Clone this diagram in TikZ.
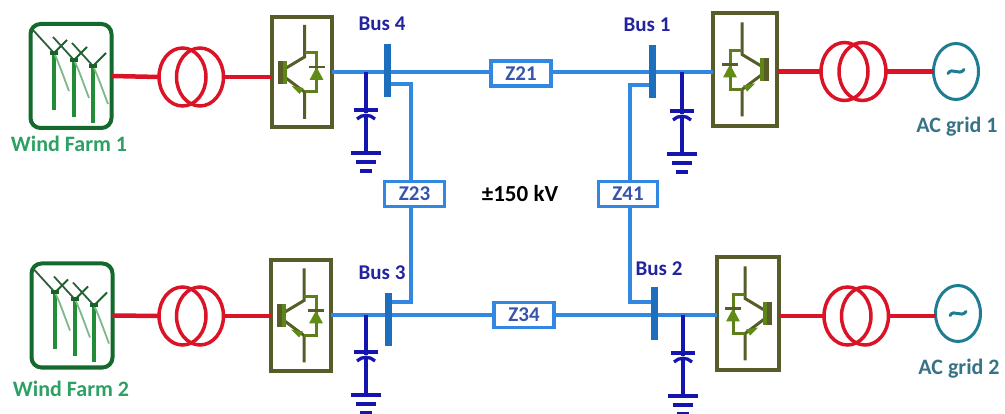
\documentclass[tikz,border=0pt]{standalone}
\usepackage{fontspec}
\setmainfont{Carlito}
\usetikzlibrary{shapes.geometric}
\definecolor{farmg}{RGB}{20,105,45}
\definecolor{towerg}{RGB}{35,140,55}
\definecolor{bladeg}{RGB}{45,95,60}
\definecolor{farmt}{RGB}{45,160,100}
\definecolor{olv}{RGB}{88,92,40}
\definecolor{dio}{RGB}{95,140,20}
\definecolor{rd}{RGB}{218,20,38}
\definecolor{ln}{RGB}{50,135,225}
\definecolor{barc}{RGB}{30,110,190}
\definecolor{navy2}{RGB}{20,20,175}
\definecolor{bust}{RGB}{35,35,160}
\definecolor{zt}{RGB}{55,85,170}
\definecolor{teal2}{RGB}{30,125,145}
\definecolor{act}{RGB}{55,115,135}
\tikzset{
  x=1pt,y=-1pt,
  farmbox/.style={draw=farmg,line width=4pt,rounded corners=10pt,minimum width=81pt,minimum height=104pt,inner sep=0pt,outer sep=0pt},
  conv/.style={draw=olv,line width=4pt,minimum width=60pt,minimum height=110pt,inner sep=0pt,outer sep=0pt},
  trafo/.style={ellipse,draw=rd,line width=3.5pt,minimum width=47pt,minimum height=58pt,inner sep=0pt,outer sep=0pt},
  acsrc/.style={ellipse,draw=teal2,line width=3pt,minimum width=45pt,minimum height=56pt,inner sep=0pt,outer sep=0pt},
  redl/.style={draw=rd,line width=4.5pt},
  bluel/.style={draw=ln,line width=4pt},
  busbar/.style={fill=barc,minimum width=7pt,minimum height=53pt,inner sep=0pt,outer sep=0pt},
  zbox/.style={draw=ln,line width=3.5pt,fill=white,minimum width=60pt,minimum height=25pt,inner sep=0pt,outer sep=0pt,text=zt,font=\fontsize{21}{21}\selectfont\bfseries},
  buslab/.style={text=bust,font=\fontsize{21}{21}\selectfont\bfseries,inner sep=0pt},
  farmlab/.style={text=farmt,font=\fontsize{22}{22}\selectfont\bfseries,inner sep=0pt},
  aclab/.style={text=act,font=\fontsize{22}{22}\selectfont\bfseries,inner sep=0pt},
  tilde/.pic={
    \draw[teal2,line width=3pt,line cap=round] (-8,2) .. controls (-4,-5) and (3,5) .. (8,-2);
  },
  turbine/.pic={
    \draw[towerg,line width=4pt] (0,0) -- (0,57);
    \draw[bladeg,line width=1.8pt] (0,0) -- (-21,-23);
    \draw[towerg!70!black,line width=2pt] (0,0) -- (13,-13);
    \draw[towerg!60!white,line width=1.8pt] (0,0) .. controls (5,10) and (10,25) .. (15,38);
    \fill[towerg!70!black] (-4,-2) rectangle (4,2);
  },
  igbt/.pic={
    \draw[olv,line width=3pt] (3,-47) -- (3,-15) -- (-17,-3);
    \draw[olv,line width=3pt] (-17,5) -- (3,20) -- (3,47);
    \fill[olv] (-24,-11) rectangle (-19,12);
    \fill[dio!85!olv] (-19,-11) rectangle (-15,12);
    \fill[dio] (-2,22) -- (-10,14) -- (2,16) -- cycle;
    \draw[dio!70!olv,line width=3pt] (3,-19) -- (15,-19) -- (15,20) -- (3,20);
    \fill[dio] (8,8) -- (22,8) -- (15,-5) -- cycle;
    \draw[olv,line width=2.5pt] (7,-5) -- (23,-5);
  },
  capg/.pic={
    \draw[navy2,line width=3.3pt] (0,0) -- (0,43);
    \draw[navy2,line width=4pt] (-12,0) -- (12,0);
    \fill[white] (-2,3) rectangle (2,5);
    \draw[navy2,line width=3.3pt] (-9,9) .. controls (-4,4) and (4,4) .. (9,9);
    \draw[navy2,line width=4pt] (-15,43) -- (15,43);
    \draw[navy2,line width=4pt] (-10,52) -- (10,52);
    \draw[navy2,line width=4pt] (-6,61) -- (6,61);
  }
}
\begin{document}
\begin{tikzpicture}
\useasboundingbox (0,0) rectangle (1005,414);
% left column
\node[farmbox] (farm1) at (71,76) {};
\node[farmbox] (farm2) at (72,315.5) {};
\node[farmlab] (lf1) at (69,144) {Wind Farm 1};
\node[farmlab] (lf2) at (71,389) {Wind Farm 2};
\foreach \f/\dy in {0/0,1/239.5}{
  \pic at ({54+\f},{53+\dy}) {turbine};
  \pic at ({74+\f},{60+\dy}) {turbine};
  \pic at ({93+\f},{66+\dy}) {turbine};
}
\node[trafo] (t1a) at (182.5,77) {};
\node[trafo] (t1b) at (200,77) {};
\node[trafo] (t2a) at (182.5,316) {};
\node[trafo] (t2b) at (200,316) {};
\node[conv] (c1) at (301.5,72) {};
\node[conv,minimum height=111pt] (c3) at (301,315.5) {};
\pic at (c1.center) {igbt};
\pic at (c3.center) {igbt};
% right column
\node[conv,minimum width=64pt,minimum height=113pt] (c4) at (745,69.5) {};
\node[conv,minimum width=62pt,minimum height=113pt] (c2) at (748,313.5) {};
\pic[xscale=-1] at (c4.center) {igbt};
\pic[xscale=-1] at (c2.center) {igbt};
\node[trafo] (t3a) at (844.5,71.5) {};
\node[trafo] (t3b) at (862.5,71.5) {};
\node[trafo] (t4a) at (847.5,316) {};
\node[trafo] (t4b) at (865,316) {};
\node[acsrc] (g1) at (956,71.5) {};
\node[acsrc] (g2) at (958,313.5) {};
\pic at (g1.center) {tilde};
\pic at (g2.center) {tilde};
\node[aclab] (lg1) at (957,127) {AC grid 1};
\node[aclab] (lg2) at (959,369) {AC grid 2};
% buses
\node[busbar] (b4) at (387,70.5) {};
\node[busbar] (b1) at (652,71.5) {};
\node[busbar] (b3) at (388,319.5) {};
\node[busbar] (b2) at (654,313.5) {};
\node[buslab] (lb4) at (382,24) {Bus 4};
\node[buslab] (lb1) at (647,25) {Bus 1};
\node[buslab] (lb3) at (382,273) {Bus 3};
\node[buslab] (lb2) at (659,269) {Bus 2};
% impedances
\node[zbox] (z21) at (521,73.5) {Z21};
\node[zbox] (z34) at (524,315) {Z34};
\node[zbox] (z23) at (414.5,194) {Z23};
\node[zbox,minimum width=59pt] (z41) at (628,194) {Z41};
\node[inner sep=0pt,font=\fontsize{23}{23}\selectfont\bfseries] (volt) at (520,194) {±150 kV};
% AC connectors
\draw[redl] (farm1.east) -- (t1a.west);
\draw[redl] (t1b.east) -- (c1.west |- t1b.east);
\draw[redl] (farm2.east) -- (t2a.west);
\draw[redl] (t2b.east) -- (c3.west |- t2b.east);
\draw[redl] (c4.east |- t3a.west) -- (t3a.west);
\draw[redl] (t3b.east) -- (g1.west);
\draw[redl] (c2.east |- t4a.west) -- (t4a.west);
\draw[redl] (t4b.east) -- (g2.west |- t4b.east);
% DC lines
\coordinate (br4) at (411,84);
\coordinate (br1) at (629.5,85);
\coordinate (br3) at (411,302);
\coordinate (br2) at (629.5,302);
\draw[bluel] (c1.east) -- (z21.west |- c1.east);
\draw[bluel] (z21.east |- c1.east) -- (c4.west |- c1.east);
\draw[bluel] (c3.east |- 0,315) -- (z34.west);
\draw[bluel] (z34.east) -- (c2.west |- z34.east);
\draw[bluel] (b4.center |- br4) -- (br4) -- (br4 |- z23.north);
\draw[bluel] (br4 |- z23.south) -- (br3) -- (b3.center |- br3);
\draw[bluel] (b1.center |- br1) -- (br1) -- (br1 |- z41.north);
\draw[bluel] (br1 |- z41.south) -- (br2) -- (b2.center |- br2);
% redraw bars on top of lines
\fill[barc] (b4.south west) rectangle (b4.north east);
\fill[barc] (b1.south west) rectangle (b1.north east);
\fill[barc] (b3.south west) rectangle (b3.north east);
\fill[barc] (b2.south west) rectangle (b2.north east);
% capacitors
\coordinate (tap4) at (366,72);
\coordinate (tap1) at (682,72);
\coordinate (tap3) at (366,315);
\coordinate (tap2) at (683,315);
\coordinate (cp4) at (366,110);
\coordinate (cp1) at (682,111);
\coordinate (cp3) at (366,352);
\coordinate (cp2) at (683,353);
\draw[navy2,line width=3.3pt] (tap4) -- (cp4);
\draw[navy2,line width=3.3pt] (tap1) -- (cp1);
\draw[navy2,line width=3.3pt] (tap3) -- (cp3);
\draw[navy2,line width=3.3pt] (tap2) -- (cp2);
\pic at (cp4) {capg};
\pic at (cp1) {capg};
\pic at (cp3) {capg};
\pic at (cp2) {capg};
\end{tikzpicture}
\end{document}
